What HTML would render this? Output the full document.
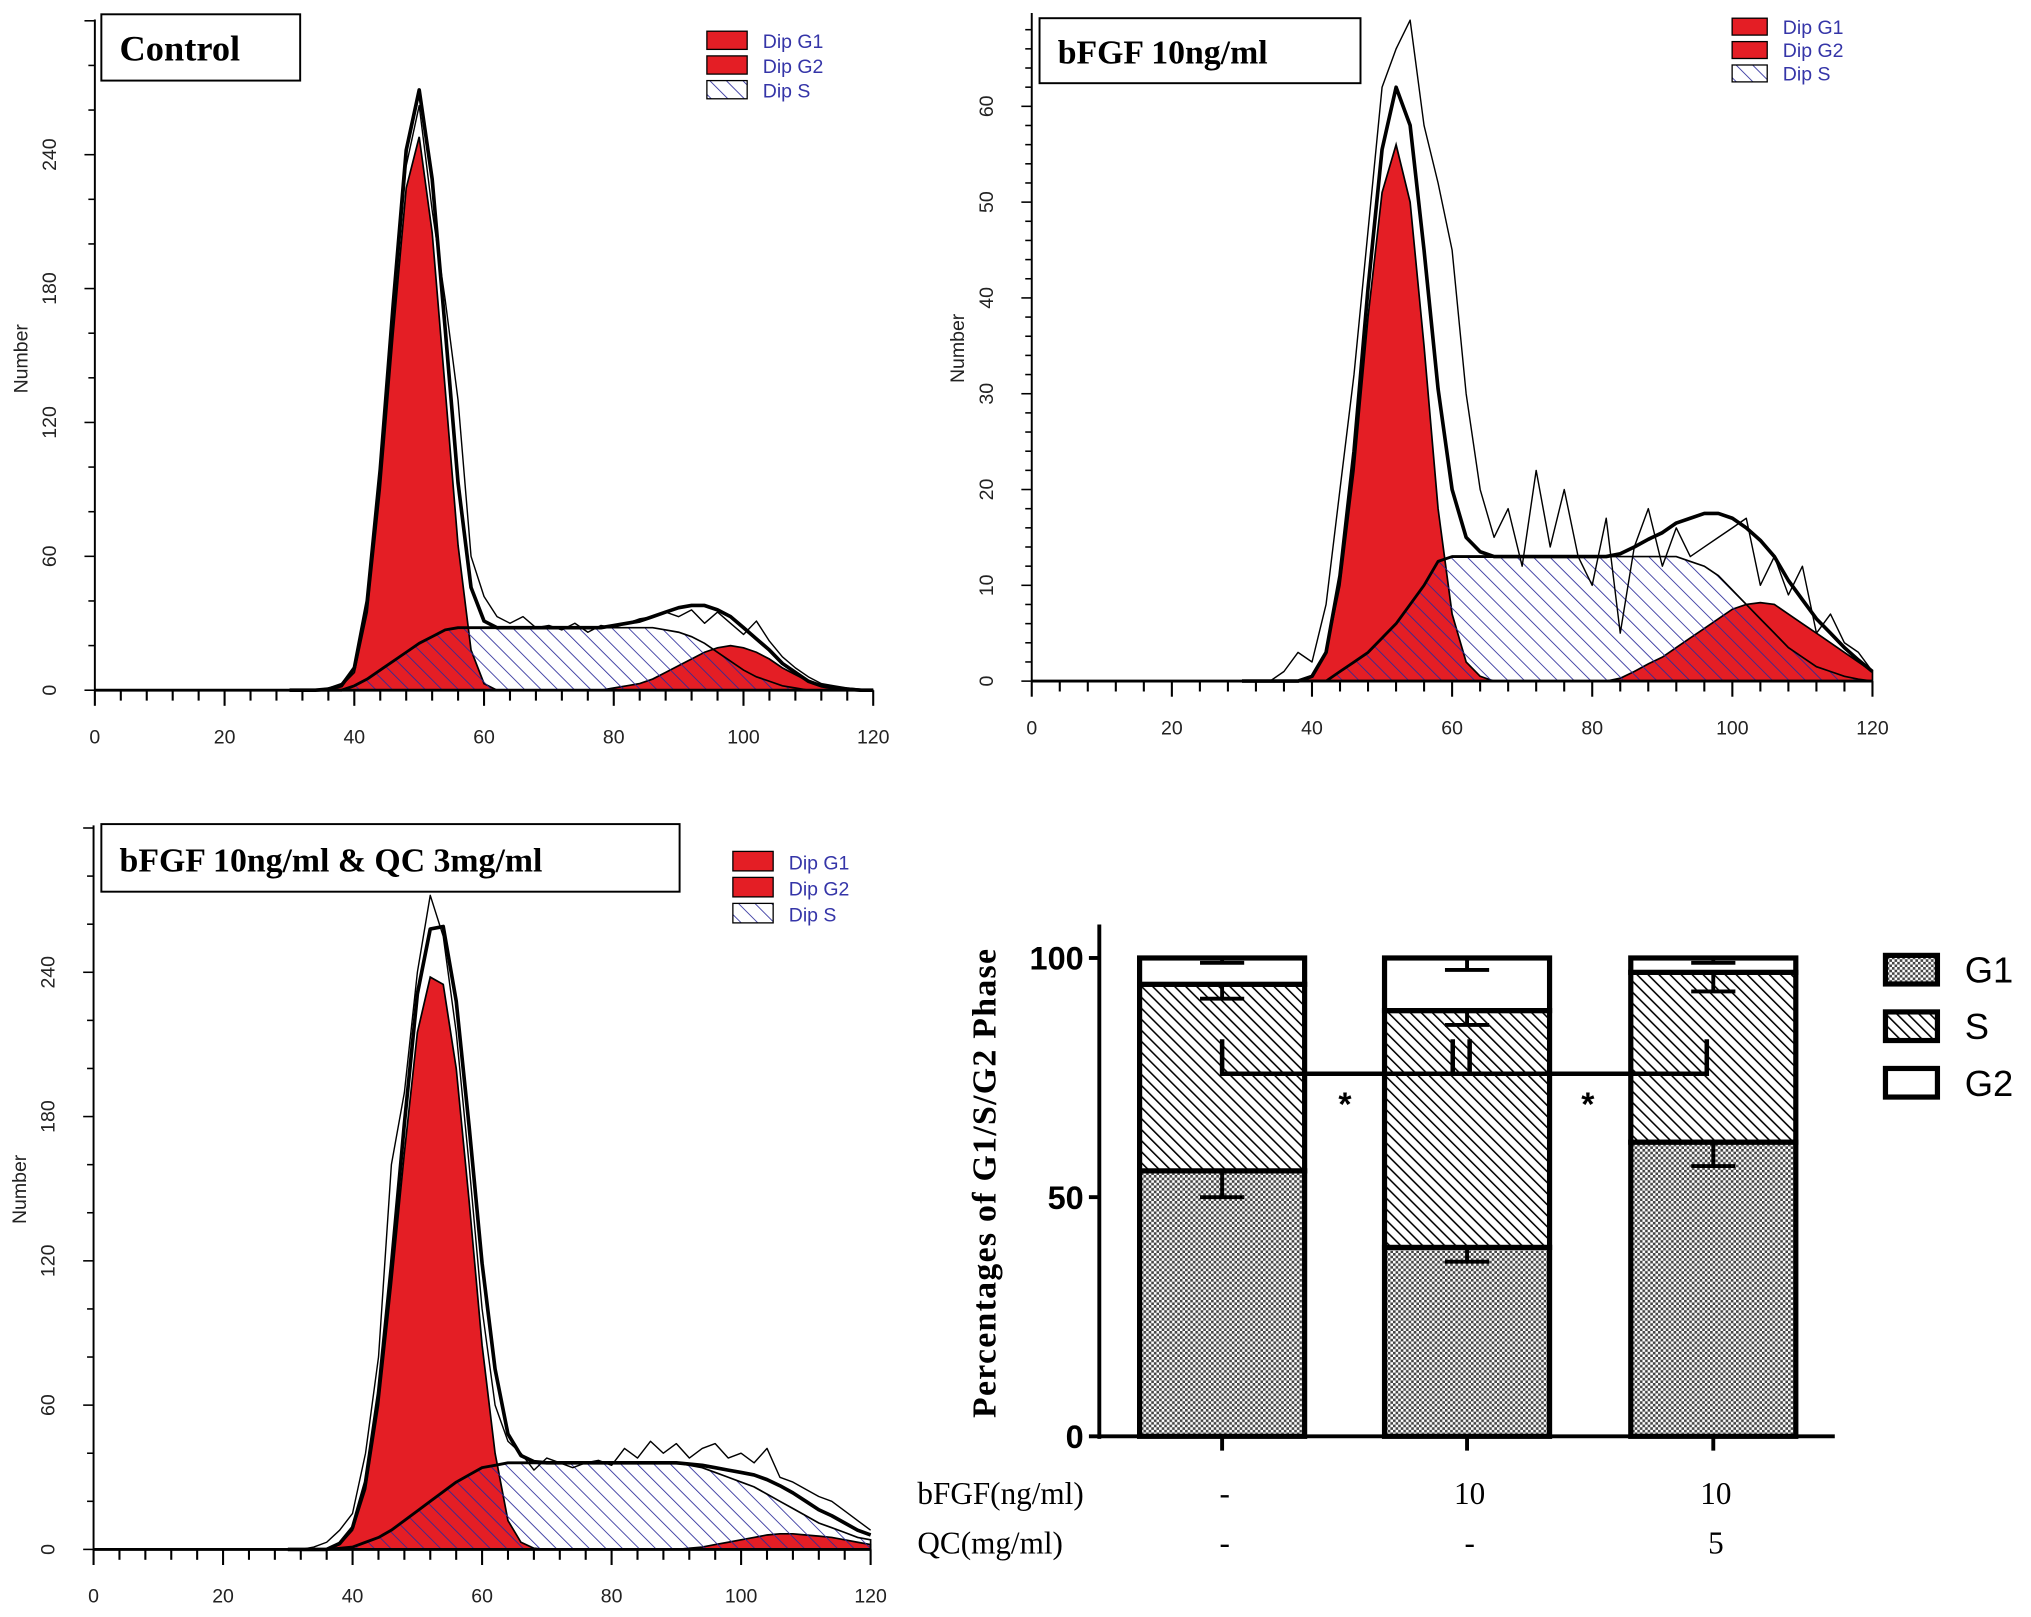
<!DOCTYPE html>
<html><head><meta charset="utf-8"><style>
html,body{margin:0;padding:0;background:#fff}
svg{display:block}
</style></head><body>
<svg id="fig" xmlns="http://www.w3.org/2000/svg" width="2031" height="1617" viewBox="0 0 1563 1244" preserveAspectRatio="none">
<defs>
<pattern id="blueHatch" width="9" height="9" patternUnits="userSpaceOnUse" patternTransform="rotate(-45)"><line x1="0" y1="0" x2="0" y2="9" stroke="#2a2a9a" stroke-width="1.3"/></pattern>
<pattern id="sHatch" width="6" height="6" patternUnits="userSpaceOnUse" patternTransform="rotate(-45)"><rect width="6" height="6" fill="#fff"/><line x1="0" y1="0" x2="0" y2="6" stroke="#000" stroke-width="2.4"/></pattern>
<pattern id="checker" width="4" height="4" patternUnits="userSpaceOnUse"><rect width="4" height="4" fill="#fff"/><rect width="2" height="2" fill="#444"/><rect x="2" y="2" width="2" height="2" fill="#444"/></pattern>
</defs>
<g id="root"></g>
</svg>
<script>
// shared channel grid (x values)
const grid = [30,32,34,36,38,40,42,44,46,48,50,52,54,56,58,60,62,64,66,68,70,72,74,76,78,80,82,84,86,88,90,92,94,96,98,100,102,104,106,108,110,112,114,116,118,120];
// Panel 1 - Control
const p1G1 = [0,0,0,0.5,2,8,35,90,160,225,248,205,135,65,18,3,0,0,0,0,0,0,0,0,0,0,0,0,0,0,0,0,0,0,0,0,0,0,0,0,0,0,0,0,0,0];
const p1S  = [0,0,0,0,0,2,5,9,13,17,21,24,27,28,28,28,28,28,28,28,28,28,28,28,28,28,28,28,28,27,26,24,21,17,13,9,6,4,2,1,0,0,0,0,0,0];
const p1G2 = [0,0,0,0,0,0,0,0,0,0,0,0,0,0,0,0,0,0,0,0,0,0,0,0,0,1,2,3,5,8,11,14,17,19,20,19,17,14,10,7,4,2,1,0.5,0,0];
const p1Raw= [0,0,0,1,3,10,40,95,165,235,262,215,175,130,60,42,33,30,33,28,29,27,30,26,29,28,30,32,33,35,33,36,30,35,30,25,31,22,15,10,6,3,2,1,0.5,0];
// Panel 2 - bFGF
const p2G1 = [0,0,0,0,0,0.5,3,10,22,38,51,56,50,35,18,7,2,0.5,0,0,0,0,0,0,0,0,0,0,0,0,0,0,0,0,0,0,0,0,0,0,0,0,0,0,0,0];
const p2S  = [0,0,0,0,0,0,0,1,2,3,4.5,6,8,10,12.5,13,13,13,13,13,13,13,13,13,13,13,13,13,13,13,13,13,12.5,12,11,9.5,8,6.5,5,3.5,2.5,1.5,1,0.5,0.2,0];
const p2G2 = [0,0,0,0,0,0,0,0,0,0,0,0,0,0,0,0,0,0,0,0,0,0,0,0,0,0,0,0.3,1,1.8,2.5,3.5,4.5,5.5,6.5,7.5,8,8.2,8,7,6,5,4,3,2,1];
const p2Raw= [0,0,0,1,3,2,8,20,32,47,62,66,69,58,52,45,30,20,15,18,12,22,14,20,13,10,17,5,14,18,12,16,13,14,15,16,17,10,13,9,12,5,7,4,3,1];
// Panel 3 - bFGF & QC
const p3G1 = [0,0,0,0,2,8,25,60,110,165,215,238,235,200,145,85,40,12,3,0.5,0,0,0,0,0,0,0,0,0,0,0,0,0,0,0,0,0,0,0,0,0,0,0,0,0,0];
const p3S  = [0,0,0,0,0.5,1,3,5,8,12,16,20,24,28,31,34,35,36,36,36,36,36,36,36,36,36,36,36,36,36,36,35,34,32,30,28,26,23,20,17,14,11,9,7,5,4];
const p3G2 = [0,0,0,0,0,0,0,0,0,0,0,0,0,0,0,0,0,0,0,0,0,0,0,0,0,0,0,0,0,0,0,0.5,1,2,3,4,5,6,6.5,6.5,6,5.5,5,4,3,2];
const p3Raw= [0,0,1,3,8,15,40,80,160,190,240,272,255,215,160,100,60,45,40,33,38,36,34,36,37,35,42,38,45,40,44,38,42,44,38,40,36,42,30,28,25,22,20,16,12,8];
// Bar chart
const groups = ['ctrl','bfgf','bfgf-qc'];
const g1Vals = [55.5, 39.5, 61.5];
const sVals  = [39, 49.5, 35.5];
const g2Vals = [5.5, 11, 3];
const g1Err  = [5.5, 3, 5];
const sErr   = [3, 3, 4];
const g2Err  = [1, 2.5, 1];
const barTicks = [0, 50, 100];
const bfgfLabels = ['-', '10', '10'];
const qcLabels = ['-', '-', '5'];

const NS='http://www.w3.org/2000/svg';
const root=document.getElementById('root');
function mk(tag, attrs, parent, text){
  const e=document.createElementNS(NS,tag);
  for(const k in attrs) e.setAttribute(k, attrs[k]);
  if(text!==undefined) e.textContent=text;
  (parent||root).appendChild(e); return e;
}

function hist(cfg){
  const g=mk('g',{});
  
  
  const sx=v=>cfg.x0+(v/120)*(cfg.x1-cfg.x0);
  const sy=v=>cfg.y0-v*cfg.k;
  const area=(arr,fill,nm)=>{
    let d='M'+sx(grid[0])+','+sy(0);
    grid.forEach((x,i)=>{d+=' L'+sx(x).toFixed(1)+','+sy(arr[i]).toFixed(1);});
    d+=' L'+sx(grid[grid.length-1])+','+sy(0)+' Z';
    const p=mk('path',{d:d,fill:fill,stroke:'#000','stroke-width':1.3},g);
    
    
  };
  const line=(arr,w,nm)=>{
    let d='';
    grid.forEach((x,i)=>{d+=(i?' L':'M')+sx(x).toFixed(1)+','+sy(arr[i]).toFixed(1);});
    const p=mk('path',{d:d,fill:'none',stroke:'#000','stroke-width':w,'stroke-linejoin':'round'},g);
    
    
  };
  area(cfg.g1,'#e41e25','g1-area');
  area(cfg.g2,'#e41e25','g2-area');
  area(cfg.s,'url(#blueHatch)','s-area');
  const sg2=cfg.s.map((v,i)=>v+cfg.g2[i]);
  const tot=cfg.s.map((v,i)=>v+cfg.g2[i]+cfg.g1[i]);
  line(sg2,2.2,'s-g2-fit-line');
  line(tot,2.8,'total-fit-line');
  line(cfg.raw,1.1,'raw-data-line');
  // axes
  mk('line',{x1:cfg.x0,y1:cfg.y0,x2:cfg.x1,y2:cfg.y0,stroke:'#000','stroke-width':2.2},g);
  mk('line',{x1:cfg.x0,y1:cfg.y0,x2:cfg.x0,y2:cfg.ytop,stroke:'#000','stroke-width':1.5},g);
  for(let v=0;v<=120;v+=4){
    const maj=v%20===0;
    mk('line',{x1:sx(v),y1:cfg.y0,x2:sx(v),y2:cfg.y0+(maj?12:8),stroke:'#000','stroke-width':1.6},g);
    if(maj){const t=mk('text',{x:sx(v),y:cfg.y0+41,'font-family':'Liberation Sans, sans-serif','font-size':15,'text-anchor':'middle',fill:'#222'},g,String(v));
      }
  }
  for(let v=0;cfg.y0-v*cfg.k>=cfg.ytop;v+=cfg.minor){
    const maj=Math.abs(v/cfg.major-Math.round(v/cfg.major))<1e-6;
    mk('line',{x1:cfg.x0,y1:sy(v),x2:cfg.x0-(maj?8:5),y2:sy(v),stroke:'#000','stroke-width':1.2},g);
    if(maj && v<=cfg.maxLabel){const t=mk('text',{x:0,y:0,transform:`translate(${cfg.x0-30},${sy(v)}) rotate(-90)`,'font-family':'Liberation Sans, sans-serif','font-size':15,'text-anchor':'middle',fill:'#222'},g,String(v));
      }
  }
  const yl=mk('text',{x:0,y:0,transform:`translate(${cfg.x0-52},${cfg.ylabY}) rotate(-90)`,'font-family':'Liberation Sans, sans-serif','font-size':15,'text-anchor':'middle',fill:'#222'},g,'Number');
  
  // title box
  const tb=mk('rect',{x:cfg.tb[0],y:cfg.tb[1],width:cfg.tb[2],height:cfg.tb[3],fill:'#fff',stroke:'#000','stroke-width':1.5},g);
  
  const tt=mk('text',{x:cfg.tb[0]+14,y:cfg.tb[1]+cfg.tb[3]*0.7,'font-family':'Liberation Serif, serif','font-weight':'bold','font-size':cfg.tfs,fill:'#000'},g,cfg.title);
  
  // legend
  const labs=['Dip G1','Dip G2','Dip S'];
  labs.forEach((l,i)=>{
    const y=cfg.lg[1]+i*cfg.lg[3];
    mk('rect',{x:cfg.lg[0],y:y,width:cfg.lg[2],height:cfg.lg[3]-5,fill:i<2?'#e41e25':'url(#blueHatch)',stroke:'#000','stroke-width':1},g);
    const t=mk('text',{x:cfg.lg[0]+cfg.lg[2]+12,y:y+cfg.lg[3]-6,'font-family':'Liberation Sans, sans-serif','font-size':15,fill:'#3535a8'},g,l);
    
  });
}

hist({name:'control-histogram',x0:73,x1:672,y0:531,k:103/60,ytop:15,minor:20,major:60,maxLabel:240,ylabY:276,g1:p1G1,s:p1S,g2:p1G2,raw:p1Raw,
  tb:[78,11,153,51],title:'Control',tfs:28,lg:[544,24,31,19]});
hist({name:'bfgf-histogram',x0:794,x1:1441,y0:524,k:73.7/10,ytop:10,minor:2,major:10,maxLabel:60,ylabY:268,g1:p2G1,s:p2S,g2:p2G2,raw:p2Raw,
  tb:[800,14,247,50],title:'bFGF 10ng/ml',tfs:26,lg:[1333,14,27,18]});
hist({name:'bfgf-qc-histogram',x0:72,x1:670,y0:1192,k:111/60,ytop:635,minor:20,major:60,maxLabel:240,ylabY:915,g1:p3G1,s:p3S,g2:p3G2,raw:p3Raw,
  tb:[78,634,445,52],title:'bFGF 10ng/ml & QC 3mg/ml',tfs:26,lg:[564,655,31,20]});

// ---- Bar chart ----
(function(){
  const g=mk('g',{});
  
  
  const X0=846, X1=1412, Y0=1105, K=(1105-737)/100;
  const sy=v=>Y0-v*K;
  const centers=[940.5,1129,1318.5], bw=127;
  groups.forEach((gr,i)=>{
    const c=centers[i], l=c-bw/2;
    const segs=[[0,g1Vals[i],'url(#checker)','g1'],[g1Vals[i],g1Vals[i]+sVals[i],'url(#sHatch)','s'],[g1Vals[i]+sVals[i],g1Vals[i]+sVals[i]+g2Vals[i],'#fff','g2']];
    segs.forEach(s=>{
      const r=mk('rect',{x:l,y:sy(s[1]),width:bw,height:sy(s[0])-sy(s[1]),fill:s[2],stroke:'#000','stroke-width':4},g);
      
      
    });
    const errs=[[g1Vals[i],g1Err[i]],[g1Vals[i]+sVals[i],sErr[i]],[g1Vals[i]+sVals[i]+g2Vals[i],g2Err[i]]];
    errs.forEach(e=>{
      const eb=mk('path',{d:`M${c},${sy(e[0])} L${c},${sy(e[0]-e[1])} M${c-17},${sy(e[0]-e[1])} L${c+17},${sy(e[0]-e[1])}`,stroke:'#000','stroke-width':3,fill:'none'},g);
      
    });
  });
  // significance bracket
  const by=sy(75.8), bt=sy(83);
  const br=mk('path',{d:`M${centers[0]},${bt} L${centers[0]},${by} L${centers[2]-5},${by} L${centers[2]-5},${bt} M${centers[1]-11},${by} L${centers[1]-11},${bt} M${centers[1]+2},${by} L${centers[1]+2},${bt}`,stroke:'#000','stroke-width':3.5,fill:'none'},g);
  
  [1035,1222].forEach(x=>{const s=mk('text',{x:x,y:858,'font-family':'Liberation Sans, sans-serif','font-size':26,'text-anchor':'middle','font-weight':'bold'},g,'*');
    });
  // axes
  mk('line',{x1:X0,y1:sy(107),x2:X0,y2:Y0+2,stroke:'#000','stroke-width':3},g);
  mk('line',{x1:X0,y1:Y0,x2:X1,y2:Y0,stroke:'#000','stroke-width':3},g);
  barTicks.forEach(v=>{
    mk('line',{x1:X0-8,y1:sy(v),x2:X0,y2:sy(v),stroke:'#000','stroke-width':3},g);
    const t=mk('text',{x:X0-12,y:sy(v)+9,'font-family':'Liberation Sans, sans-serif','font-size':25,'font-weight':'bold','text-anchor':'end'},g,String(v));
    
  });
  centers.forEach(c=>mk('line',{x1:c,y1:Y0,x2:c,y2:Y0+11,stroke:'#000','stroke-width':3},g));
  const yt=mk('text',{x:0,y:0,transform:'translate(766,910) rotate(-90)','font-family':'Liberation Serif, serif','font-size':26,'font-weight':'bold','text-anchor':'middle','letter-spacing':'1'},g,'Percentages of G1/S/G2 Phase');
  
  // legend
  [['G1','url(#checker)'],['S','url(#sHatch)'],['G2','#fff']].forEach((l,i)=>{
    const y=735+i*43.5;
    mk('rect',{x:1451,y:y,width:40,height:22,fill:l[1],stroke:'#000','stroke-width':4},g);
    const t=mk('text',{x:1512,y:y+21,'font-family':'Liberation Sans, sans-serif','font-size':28},g,l[0]);
    
  });
  // condition rows
  const r1=mk('text',{x:706,y:1157,'font-family':'Liberation Serif, serif','font-size':24},g,'bFGF(ng/ml)');
  
  const r2=mk('text',{x:706,y:1195,'font-family':'Liberation Serif, serif','font-size':24},g,'QC(mg/ml)');
  
  centers.forEach((c,i)=>{
    const a=mk('text',{x:c+2,y:1157,'font-family':'Liberation Serif, serif','font-size':24,'text-anchor':'middle'},g,bfgfLabels[i]);
    
    const b=mk('text',{x:c+2,y:1195,'font-family':'Liberation Serif, serif','font-size':24,'text-anchor':'middle'},g,qcLabels[i]);
    
  });
})();
</script>
</body></html>
